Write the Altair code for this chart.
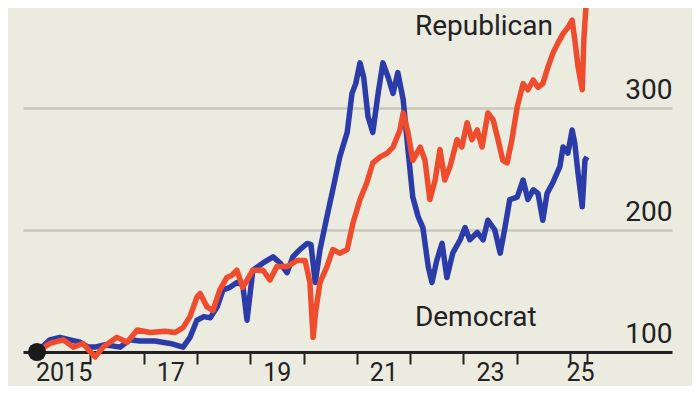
import altair as alt
import pandas as pd

# Democrat series (decimal year, index value)
dem_years = [2015.00, 2015.24, 2015.43, 2015.62, 2015.81, 2015.96, 2016.09, 2016.28, 2016.56, 2016.74,
             2016.93, 2017.21, 2017.50, 2017.74, 2017.87, 2018.00, 2018.13, 2018.25, 2018.38, 2018.49,
             2018.62, 2018.75, 2018.86, 2018.94, 2019.05, 2019.24, 2019.43, 2019.56, 2019.69, 2019.80,
             2019.93, 2020.07, 2020.14, 2020.22, 2020.31, 2020.44, 2020.55, 2020.68, 2020.82, 2020.91,
             2020.98, 2021.06, 2021.13, 2021.21, 2021.30, 2021.40, 2021.49, 2021.59, 2021.68, 2021.77,
             2021.87, 2021.96, 2022.05, 2022.15, 2022.24, 2022.34, 2022.41, 2022.50, 2022.60, 2022.69,
             2022.80, 2022.94, 2023.03, 2023.12, 2023.26, 2023.37, 2023.46, 2023.59, 2023.69, 2023.78,
             2023.87, 2024.01, 2024.12, 2024.21, 2024.31, 2024.40, 2024.49, 2024.57, 2024.68, 2024.81,
             2024.87, 2024.96, 2025.04, 2025.09, 2025.15, 2025.23, 2025.28, 2025.32]
dem_values = [100, 110, 112, 110, 108, 104, 104, 106, 104, 110,
              109, 109, 107, 104, 112, 126, 129, 128, 137, 151,
              153, 157, 155, 126, 167, 173, 178, 173, 165, 178,
              184, 189, 188, 157, 184, 211, 233, 260, 280, 312,
              320, 337, 325, 293, 280, 312, 337, 325, 312, 329,
              307, 266, 227, 211, 202, 170, 157, 175, 189, 161,
              181, 192, 202, 192, 198, 192, 208, 200, 181, 202,
              225, 227, 241, 225, 233, 230, 208, 230, 239, 252,
              268, 263, 282, 271, 247, 219, 257, 260]

# Republican series
rep_years = [2015.00, 2015.24, 2015.49, 2015.68, 2015.86, 2016.09, 2016.24, 2016.50, 2016.69, 2016.88,
             2017.12, 2017.40, 2017.59, 2017.74, 2017.87, 2018.00, 2018.06, 2018.19, 2018.30, 2018.43,
             2018.56, 2018.66, 2018.75, 2018.86, 2019.05, 2019.24, 2019.37, 2019.50, 2019.69, 2019.88,
             2020.03, 2020.12, 2020.18, 2020.23, 2020.31, 2020.44, 2020.55, 2020.68, 2020.82, 2020.93,
             2021.06, 2021.19, 2021.30, 2021.44, 2021.57, 2021.68, 2021.81, 2021.87, 2021.96, 2022.05,
             2022.19, 2022.28, 2022.37, 2022.47, 2022.56, 2022.65, 2022.75, 2022.88, 2022.97, 2023.07,
             2023.16, 2023.26, 2023.35, 2023.46, 2023.56, 2023.65, 2023.74, 2023.82, 2023.91, 2024.01,
             2024.12, 2024.21, 2024.31, 2024.40, 2024.49, 2024.59, 2024.68, 2024.77, 2024.87, 2024.96,
             2025.04, 2025.09, 2025.15, 2025.23, 2025.26, 2025.32]
rep_values = [100, 107, 110, 104, 107, 96, 104, 112, 108, 118,
              116, 117, 116, 120, 129, 145, 148, 137, 134, 151,
              161, 163, 167, 153, 167, 167, 159, 170, 170, 175,
              175, 157, 112, 134, 157, 170, 184, 181, 184, 206,
              225, 239, 255, 260, 263, 268, 282, 296, 280, 257,
              268, 257, 225, 241, 266, 241, 252, 274, 268, 288,
              274, 282, 268, 296, 290, 274, 257, 255, 274, 301,
              320, 315, 323, 317, 320, 334, 345, 353, 361, 366,
              372, 356, 334, 315, 356, 397]

# Axis ticks / labels
tick_years = [2015, 2016, 2017, 2018, 2019, 2020, 2021, 2022, 2023, 2024, 2025, 2025.32]
y_ticks = [100, 200, 300]

# Annotations
label_text = ["Republican", "Democrat"]
label_year = [2022.09, 2022.09]
label_value = [359.5, 121.3]

start_year = [2015.0]
start_value = [100]

BLUE = "#2b3ca9"
RED = "#ef4b2d"
BG = "#ebebe0"
FONT = "Roboto"

df = pd.concat([
    pd.DataFrame({"year": dem_years, "value": dem_values, "party": "Democrat"}),
    pd.DataFrame({"year": rep_years, "value": rep_values, "party": "Republican"}),
])
labels_df = pd.DataFrame({"year": label_year, "value": label_value, "text": label_text})
dot_df = pd.DataFrame({"year": start_year, "value": start_value})

x_enc = alt.X(
    "year:Q",
    scale=alt.Scale(domain=[2014.737, 2026.914], nice=False, zero=False),
    axis=alt.Axis(
        values=tick_years,
        title=None,
        grid=False,
        domain=True,
        domainColor="#222222",
        domainWidth=3,
        ticks=True,
        tickSize=12,
        tickWidth=2,
        tickColor="#222222",
        tickOpacity={"condition": {"test": "datum.value == 2015", "value": 0}, "value": 1},
        labelExpr="datum.value == 2015 ? '2015' : (datum.value % 2 == 1 ? substring(toString(datum.value), 2, 4) : '')",
        labelOffset={"condition": {"test": "datum.value == 2025", "value": 10}, "value": 26.6},
        labelPadding=16,
        labelAlign="center",
        labelBaseline="alphabetic",
        labelFont=FONT,
        labelFontSize=25,
        labelColor="#222222",
        labelFlush=False,
        labelOverlap=False,
    ),
)
y_enc = alt.Y(
    "value:Q",
    scale=alt.Scale(domain=[100, 382], nice=False, zero=False),
    axis=alt.Axis(
        orient="right",
        values=y_ticks,
        title=None,
        grid=True,
        gridColor="#c7c7bb",
        gridWidth=2.5,
        gridOpacity={"condition": {"test": "datum.value == 100", "value": 0}, "value": 1},
        domain=False,
        ticks=False,
        tickSize=0,
        labelPadding=0,
        labelAlign="right",
        labelBaseline="alphabetic",
        labelOffset=-10,
        labelFont=FONT,
        labelFontSize=28,
        labelColor="#222222",
        labelFlush=False,
        labelOverlap=False,
    ),
)

dem_line = alt.Chart(df).transform_filter("datum.party == 'Democrat'").mark_line(
    color=BLUE, strokeWidth=5.5, strokeJoin="round"
).encode(x=x_enc, y=y_enc, order="year:Q")

rep_line = alt.Chart(df).transform_filter("datum.party == 'Republican'").mark_line(
    color=RED, strokeWidth=5.5, strokeJoin="round"
).encode(x=x_enc, y=y_enc, order="year:Q")

texts = alt.Chart(labels_df).mark_text(
    align="left", baseline="alphabetic", font=FONT, fontSize=28, color="#222222"
).encode(x=x_enc, y=y_enc, text="text:N")

dot = alt.Chart(dot_df).mark_circle(size=330, color="#1a1a1a", opacity=1).encode(x=x_enc, y=y_enc)

chart = alt.layer(dem_line, rep_line, texts, dot).properties(
    width=649,
    height=344,
    padding={"left": 15, "top": 0, "right": 20, "bottom": 34},
    autosize=alt.AutoSizeParams(type="none"),
    background=BG,
).configure_view(stroke=None)

chart.save("out.html", embed_options={"renderer": "svg", "actions": False})
